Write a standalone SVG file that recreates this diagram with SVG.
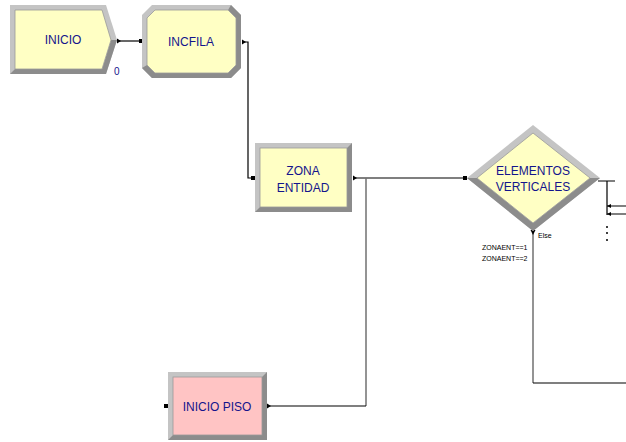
<svg xmlns="http://www.w3.org/2000/svg" width="626" height="442" viewBox="0 0 626 442">
<style>
.lt{fill:#c4c4c4}
.dk{fill:#8c8c8c}
.in{fill:#ffffc4;stroke:#9a9a9a;stroke-width:0.8}
.pk{fill:#ffc4c4;stroke:#9a9a9a;stroke-width:0.8}
.lbl{font-family:"Liberation Sans",Arial,sans-serif;font-size:12px;fill:#14148c;text-anchor:middle}
.sm{font-family:"Liberation Sans",Arial,sans-serif;font-size:7px;fill:#000}
.c{fill:none;stroke:#000;stroke-width:1.2}
.g{fill:none;stroke:#707070;stroke-width:1.5}
.pt{fill:#000}
</style>
<rect width="626" height="442" fill="#fff"/>
<g id="connectors">
<path class="c" d="M118,41 H140"/>
<path class="c" d="M243,42 H248 V178 H253"/>
<path class="c" d="M354,178 H465"/>
<path class="g" d="M366,178 V406"/>
<path class="c" d="M268,406 H366"/>
<path class="g" d="M533,232 V383"/>
<path class="c" d="M533,383 H626"/>
<path class="c" d="M598,181 H615 M607,181 V215 M607,206 H626 M607,214 H626"/>
<rect class="pt" x="139" y="39" width="4" height="4"/>
<polygon class="pt" points="117,38.5 121,41 117,43.5"/>
<rect class="pt" x="251" y="176" width="4" height="4"/>
<polygon class="pt" points="242,39.5 246,42 242,44.5"/>
<polygon class="pt" points="353,175.5 357,178 353,180.5"/>
<rect class="pt" x="463" y="176" width="4" height="4"/>
<polygon class="pt" points="267,403.5 271,406 267,408.5"/>
<rect class="pt" x="164" y="404" width="4" height="4"/>
<polygon class="pt" points="530.5,230 535.5,230 533,235"/>
<polygon class="pt" points="607,206 611,204 611,208"/>
<polygon class="pt" points="607,214 611,212 611,216"/>
<circle class="pt" cx="607" cy="227" r="1"/>
<circle class="pt" cx="607" cy="233" r="1"/>
<circle class="pt" cx="607" cy="240" r="1"/>
</g>
<g id="inicio">
<polygon class="lt" points="10,5 106,5 117,40 106,74 10,74"/>
<polygon class="dk" points="117,40 106,74 10,74 15,69 102,69 111,40"/>
<polygon class="in" points="15,10 102,10 111,40 102,69 15,69"/>
<text class="lbl" x="63" y="44">INICIO</text>
<text x="114" y="75" font-family="Liberation Sans,Arial,sans-serif" font-size="10" fill="#14148c">0</text>
</g>
<g id="incfila">
<polygon class="lt" points="152,5 231,5 241,15 241,68 231,78 152,78 142,68 142,15"/>
<polygon class="dk" points="231,5 241,15 241,68 231,78 152,78 142,68 147,65 155,73 228,73 236,65 236,18 228,10"/>
<polygon class="in" points="155,10 228,10 236,18 236,65 228,73 155,73 147,65 147,18"/>
<text class="lbl" x="191" y="46">INCFILA</text>
</g>
<g id="zona">
<rect class="lt" x="255" y="143" width="97" height="69"/>
<polygon class="dk" points="352,143 352,212 255,212 260,207 347,207 347,148"/>
<rect class="in" x="260" y="148" width="87" height="59"/>
<text class="lbl" x="303" y="175">ZONA</text>
<text class="lbl" x="303" y="192">ENTIDAD</text>
</g>
<g id="elementos">
<polygon class="lt" points="533,125 600,178 533,231 467,178"/>
<polygon class="dk" points="600,178 533,231 467,178 477,178 533,223 590,178"/>
<polygon class="in" points="533,133 590,178 533,223 477,178"/>
<text class="lbl" x="533" y="175">ELEMENTOS</text>
<text class="lbl" x="533" y="191">VERTICALES</text>
<text class="sm" x="538" y="238">Else</text>
<text class="sm" x="482" y="250">ZONAENT==1</text>
<text class="sm" x="482" y="261">ZONAENT==2</text>
</g>
<g id="iniciopiso">
<rect class="lt" x="168" y="372" width="99" height="68"/>
<polygon class="dk" points="267,372 267,440 168,440 173,435 262,435 262,377"/>
<rect class="pk" x="173" y="377" width="89" height="58"/>
<text class="lbl" x="217" y="411">INICIO PISO</text>
</g>
</svg>
